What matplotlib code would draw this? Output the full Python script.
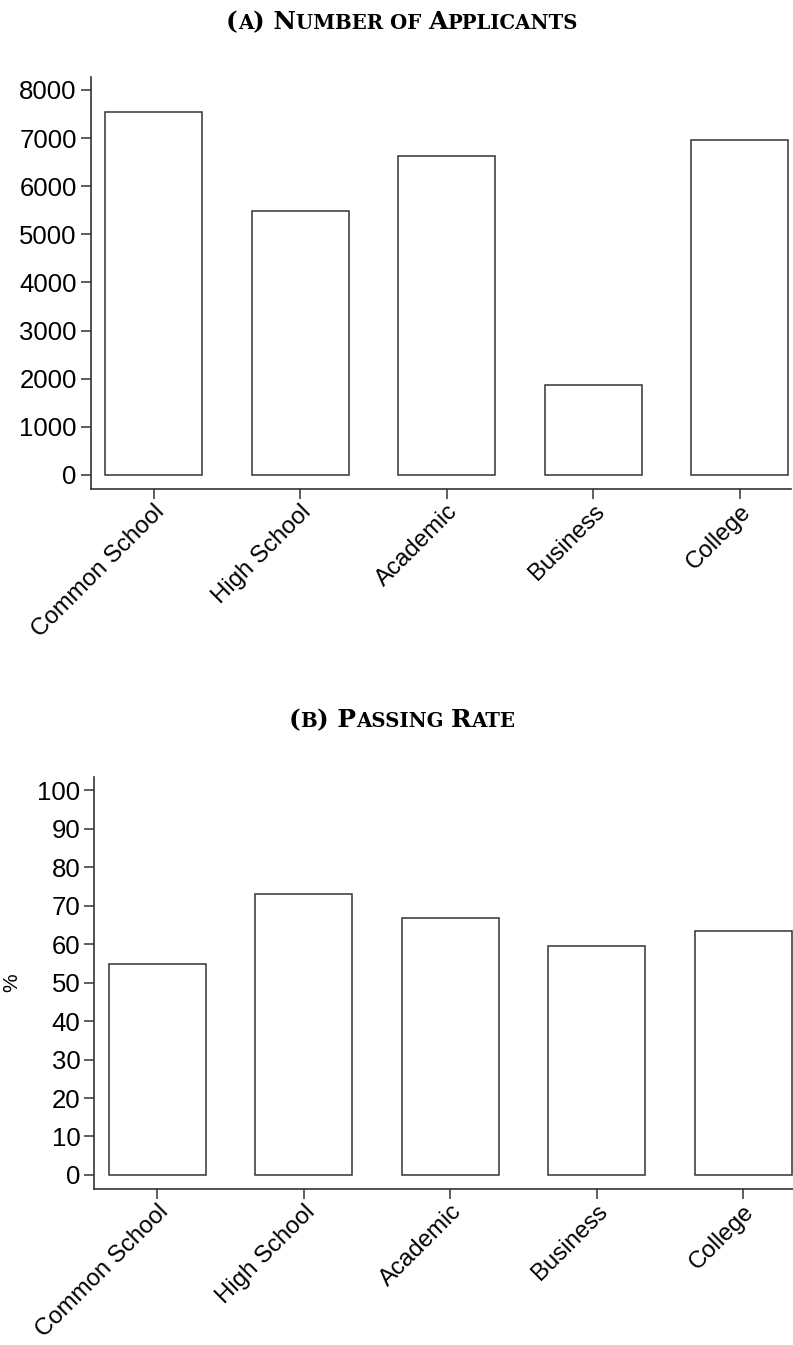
import matplotlib
matplotlib.use("Agg")
import matplotlib.pyplot as plt
from matplotlib.offsetbox import TextArea, HPacker, AnchoredOffsetbox

categories = ["Common School", "High School", "Academic", "Business", "College"]
applicants = [7540, 5495, 6635, 1860, 6970]
passing_rate = [54.9, 73.0, 66.7, 59.4, 63.5]
yticks_a = [0, 1000, 2000, 3000, 4000, 5000, 6000, 7000, 8000]
yticks_b = [0, 10, 20, 30, 40, 50, 60, 70, 80, 90, 100]

plt.rcParams['font.family'] = ['Liberation Sans', 'DejaVu Sans']

W, H = 793, 1345
fig = plt.figure(figsize=(W / 100, H / 100), dpi=100)


def smallcaps_title(fig, parts, xc, yc):
    children = []
    for txt, big in parts:
        children.append(TextArea(txt, textprops=dict(
            family=['DejaVu Serif'], weight='bold',
            size=17.8 if big else 14.2, color='black')))
    box = HPacker(children=children, align='baseline', pad=0, sep=0)
    ab = AnchoredOffsetbox(loc='center', child=box, frameon=False,
                           bbox_to_anchor=(xc, yc), bbox_transform=fig.transFigure,
                           borderpad=0, pad=0)
    fig.add_artist(ab)


def style(ax):
    for s in ['top', 'right']:
        ax.spines[s].set_visible(False)
    for s in ['left', 'bottom']:
        ax.spines[s].set_linewidth(1.2)
        ax.spines[s].set_color('#333333')
    ax.tick_params(axis='both', direction='out', length=7, width=1.1,
                   color='#333333', labelsize=18.5, pad=3)
    ax.tick_params(axis='x', labelsize=17.3, pad=1.5)
    ax.set_xticks(range(len(categories)))
    ax.set_xticklabels(categories, rotation=45, ha='right', rotation_mode='anchor')


# Panel A
axA = fig.add_axes([90.7 / W, 1 - 489 / H, 700 / W, (489 - 77) / H])
axA.bar(range(len(categories)), applicants, width=0.66, color='white',
        edgecolor='#333333', linewidth=1.1)
axA.set_xlim(-0.43, 4.348)
axA.set_ylim(-291, 8270)
axA.set_yticks(yticks_a)
style(axA)
smallcaps_title(fig, [("(", True), ("A", False), (") N", True), ("UMBER OF ", False),
                      ("A", True), ("PPLICANTS", False)], 402 / W, 1 - 22 / H)

# Panel B
axB = fig.add_axes([94.3 / W, 1 - 1189 / H, 700 / W, (1189 - 777) / H])
axB.bar(range(len(categories)), passing_rate, width=0.66, color='white',
        edgecolor='#333333', linewidth=1.1)
axB.set_xlim(-0.43, 4.348)
axB.set_ylim(-3.64, 103.4)
axB.set_yticks(yticks_b)
style(axB)
axB.set_ylabel('%', fontsize=15)
axB.yaxis.set_label_coords((21 - 94.3) / 700, 0.5)
smallcaps_title(fig, [("(", True), ("B", False), (") P", True), ("ASSING ", False),
                      ("R", True), ("ATE", False)], 402 / W, 1 - 720 / H)

fig.savefig("out.png", dpi=100, facecolor='white')
